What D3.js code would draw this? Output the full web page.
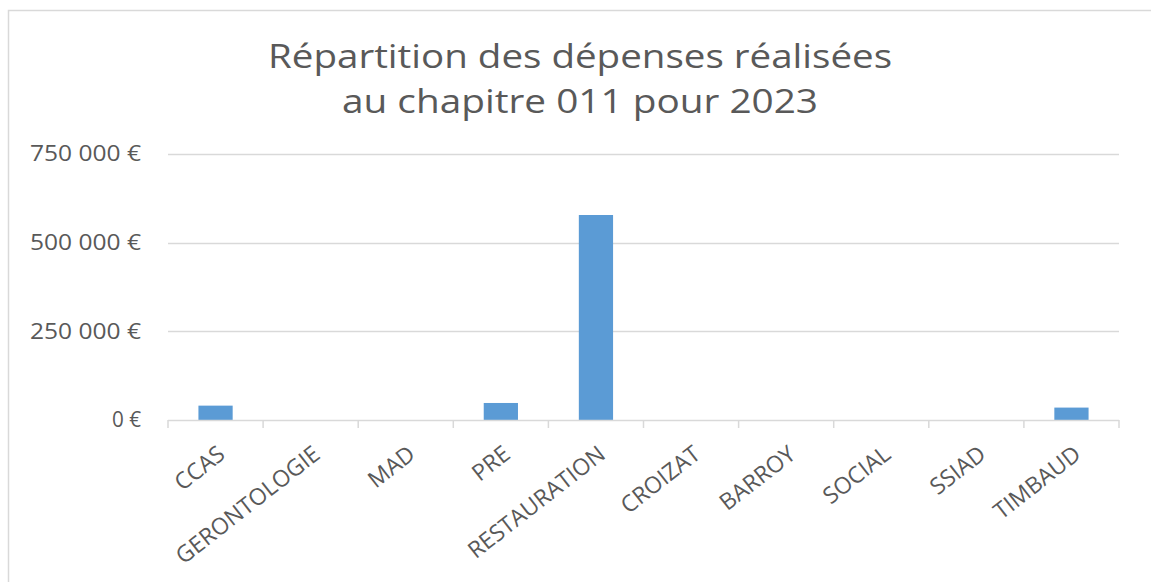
<!DOCTYPE html>
<html>
<head>
<meta charset="utf-8">
<script src="https://cdn.jsdelivr.net/npm/d3@7"></script>
<style>
  body { margin: 0; background: #fff; }
  svg { display: block; font-family: "Open Sans", sans-serif; }
</style>
</head>
<body>
<div class="cont"></div>
<script>
var categories = ["CCAS", "GERONTOLOGIE", "MAD", "PRE", "RESTAURATION", "CROIZAT", "BARROY", "SOCIAL", "SSIAD", "TIMBAUD"];
var values = [40500, 0, 0, 48000, 578000, 0, 0, 0, 0, 35000];
var yTicks = [0, 250000, 500000, 750000];
var titleLines = ["Répartition des dépenses réalisées", "au chapitre 011 pour 2023"];

var w = 1151,
h = 582;

var textCol = "#595959",
gridCol = "#d9d9d9",
barCol = "#5b9bd5";

var fr = d3.formatLocale({decimal: ",", thousands: "\u00a0", grouping: [3], currency: ["", " €"]});
var euro = fr.format("$,");

var svg = d3.select(".cont").append("svg").
attr("width", w).
attr("height", h);

// chart frame (only the left and top edges show in the picture)
svg.append("path").
attr("d", "M8.5," + h + "V10.5H" + w).
attr("fill", "none").
attr("stroke", gridCol).
attr("stroke-width", 1.5);

var x = d3.scaleBand().
domain(categories).
range([168, 1119]).
paddingInner(0.64).
paddingOuter(0.32);

var y = d3.scaleLinear().
domain([0, 750000]).
range([420, 154]);

// title
svg.append("g").
selectAll("text").
data(titleLines).
enter().append("text").
attr("x", 580).
attr("y", function (d, i) {return 68 + i * 45;}).
attr("text-anchor", "middle").
attr("fill", textCol).
attr("font-size", 32).
attr("textLength", function (d, i) {return i == 0 ? 624 : 476;}).
attr("lengthAdjust", "spacingAndGlyphs").
text(function (d) {return d;});

// gridlines
svg.append("g").
selectAll("line").
data(yTicks.slice(1)).
enter().append("line").
attr("x1", 168).
attr("x2", 1119).
attr("y1", function (d) {return Math.round(y(d)) + 0.5;}).
attr("y2", function (d) {return Math.round(y(d)) + 0.5;}).
attr("stroke", gridCol).
attr("stroke-width", 1.5);

// y labels
svg.append("g").
selectAll("text").
data(yTicks).
enter().append("text").
attr("x", 141).
attr("y", function (d) {return y(d);}).
attr("dy", "0.35em").
attr("text-anchor", "end").
attr("fill", textCol).
attr("font-size", 21).
attr("textLength", function (d) {return d == 0 ? 29 : 111;}).
attr("lengthAdjust", "spacingAndGlyphs").
text(function (d) {return euro(d);});

// bars
svg.append("g").
selectAll("rect").
data(values).
enter().append("rect").
attr("x", function (d, i) {return x(categories[i]);}).
attr("width", x.bandwidth()).
attr("y", function (d) {return y(d);}).
attr("height", function (d) {return y(0) - y(d);}).
attr("fill", barCol);

// x axis: line and ticks at band edges
var edges = categories.map(function (c) {return x(c) - x.step() * x.paddingInner() / 2;});
edges.push(x.range()[1]);
var ax = svg.append("g").attr("stroke", gridCol).attr("stroke-width", 1.5);
ax.append("line").
attr("x1", 168).attr("x2", 1119).
attr("y1", y(0) + 0.5).attr("y2", y(0) + 0.5);
ax.selectAll(".tk").
data(edges).
enter().append("line").
attr("class", "tk").
attr("x1", function (d) {return d;}).
attr("x2", function (d) {return d;}).
attr("y1", y(0)).
attr("y2", y(0) + 8);

// x labels, rotated
svg.append("g").
selectAll("text").
data(categories).
enter().append("text").
attr("transform", function (d) {
  return "translate(" + (x(d) + x.bandwidth() / 2 + 11) + "," + (y(0) + 37) + ") rotate(-38)";
}).
attr("text-anchor", "end").
attr("fill", textCol).
attr("font-size", 23).
text(function (d) {return d;});
</script>
</body>
</html>
